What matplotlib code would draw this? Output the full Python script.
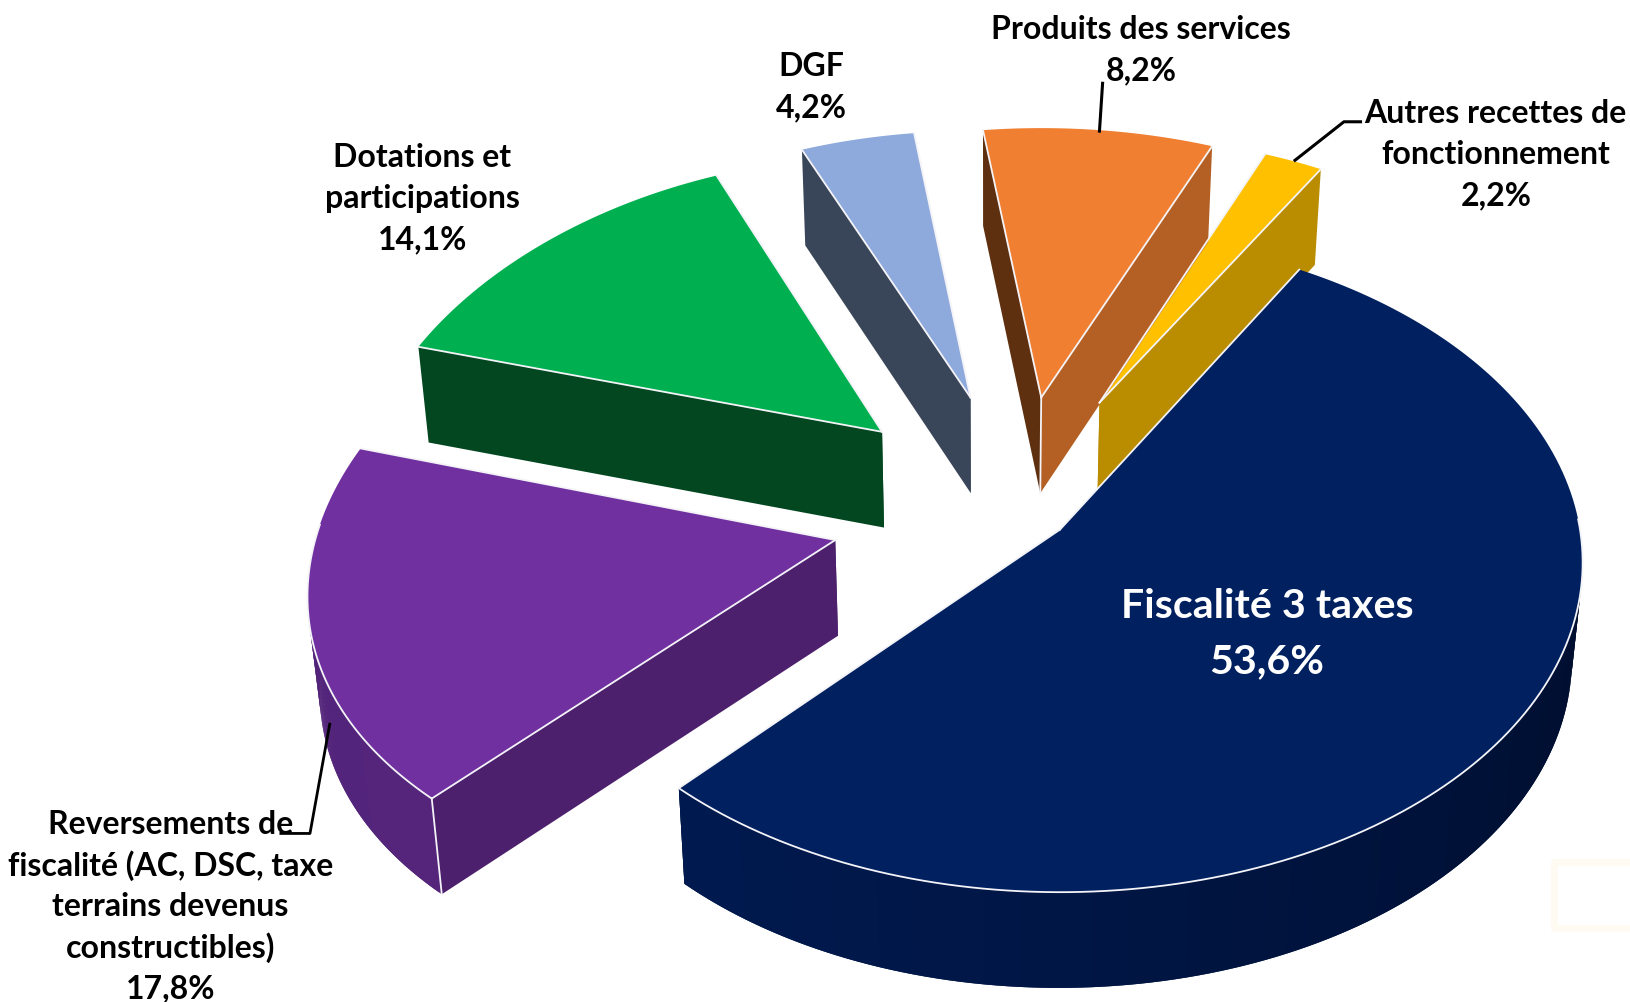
#!/usr/bin/env python3

import matplotlib
matplotlib.use("Agg")
import matplotlib.pyplot as plt
import numpy as np

# values, clockwise from the first slice
names = ["Fiscalité 3 taxes", "Reversements de\nfiscalité (AC, DSC, taxe\nterrains devenus\nconstructibles)",
         "Dotations et\nparticipations", "DGF", "Produits des services",
         "Autres recettes de\nfonctionnement"]
shares = [53.6, 17.8, 14.1, 4.2, 8.2, 2.2]
share_labels = ["53,6%", "17,8%", "14,1%", "4,2%", "8,2%", "2,2%"]

top_colors = ["#002060", "#7030A0", "#00B050", "#8EA9DB", "#F07F32", "#FFC000"]
wall_first = ["#001A4D", "#4C206D", "#024720", "#394558", "#5E3010", "#BA8C00"]
wall_last = ["#000D30", "#4C206D", "#024720", "#394558", "#B46024", "#BA8C00"]
rim_near = ["#000D2C", "#54257B", "#024720", "#394558", "#B46024", "#BA8C00"]
rim_far = ["#001A50", "#52237A", "#024720", "#394558", "#B46024", "#BA8C00"]

# where each exploded slice has its point, in the picture
apex_x = [1019, 803, 848, 933, 1001, 1057]
apex_y = [510, 520, 416, 383, 383, 388]

# slices pushed back look smaller
scale_x = [1.0, 1.0, 0.985, 0.925, 0.955, 0.925]
scale_y = [0.98, 0.98, 0.91, 0.88, 0.89, 0.88]
persp_x = [0.10, 0.17, 0.20, 0.10, 0.10, 0.10]

start_deg = 30
radius_x = 500
radius_y = 320
persp_y = 0.10
depth = 92
squeeze = 0.018
vanish_x = 950

# position of each label block, first line
label_x = [1218, 164, 406, 780, 1097, 1438]
label_y = [583, 792, 151, 64, 28, 109]
line_step = 39.7


def rim(i, angles):
    # ground circle -> screen with a simple perspective
    X = np.sin(angles)
    Y = -np.cos(angles)
    sx = apex_x[i] + scale_x[i] * radius_x * X / (1 - persp_x[i] * Y)
    sy = apex_y[i] + scale_y[i] * radius_y * Y / (1 - persp_y * Y)
    return sx, sy


def drop(x, y):
    return x + (vanish_x - x) * squeeze, y + depth


def mix(c1, c2, t):
    a = np.array(matplotlib.colors.to_rgb(c1))
    b = np.array(matplotlib.colors.to_rgb(c2))
    return a + (b - a) * t


fig = plt.figure(figsize=(16.31, 10.03), dpi=100)
ax = fig.add_axes([0, 0, 1, 1])
ax.set_xlim(0, 1568)
ax.set_ylim(964, 0)
ax.axis("off")

# faint scan marks bottom right of the original
ax.plot([1568, 1494, 1494, 1568], [829, 829, 893, 893], color="#FFFBF2", lw=5, zorder=0)

angle_edges = start_deg + np.cumsum([0] + shares) / sum(shares) * 360
edge_white = "#F4F4F8"

# back slices first, big one last
for i in [5, 4, 3, 2, 1, 0]:
    a0, a1 = np.radians(angle_edges[i]), np.radians(angle_edges[i + 1])
    ang = np.linspace(a0, a1, 160)
    x, y = rim(i, ang)
    bx, by = drop(x, y)
    ax0, ay0 = apex_x[i], apex_y[i]
    dx0, dy0 = drop(ax0, ay0)

    # flat side walls
    ax.fill([ax0, x[0], bx[0], dx0], [ay0, y[0], by[0], dy0], color=wall_first[i], lw=0)
    ax.fill([ax0, x[-1], bx[-1], dx0], [ay0, y[-1], by[-1], dy0], color=wall_last[i], lw=0)

    # outer wall, only the part facing us. strips overlap so no seams
    front = np.where(np.cos(ang) < 0.05)[0]
    if len(front) > 1:
        for n, j in enumerate(front[:-1]):
            k = min(j + 3, front[-1] + 1)
            c = mix(rim_near[i], rim_far[i], n / (len(front) - 1))
            ax.fill(np.r_[x[j:k], bx[j:k][::-1]], np.r_[y[j:k], by[j:k][::-1]], color=c, lw=0)

    # top
    ax.fill(np.r_[ax0, x], np.r_[ay0, y], color=top_colors[i], lw=0)

    # white edges
    if len(front) > 1:
        ax.plot(x[front], y[front], color=edge_white, lw=1.3)
    ax.plot([x[0], ax0], [y[0], ay0], color=edge_white, lw=1.3)
    ax.plot([x[-1], ax0], [y[-1], ay0], color=edge_white, lw=1.3)
    if i == 4:
        ax.plot([ax0, dx0], [ay0, dy0], color=edge_white, lw=1.3)
    if i == 1:
        ax.plot([x[0], bx[0]], [y[0], by[0]], color=edge_white, lw=1.3)

# leader lines
ax.plot([1057, 1060], [127, 81], color="black", lw=2.2)
ax.plot([1245, 1292, 1308], [155, 118, 118], color="black", lw=2.2)
ax.plot([317, 298, 270], [697, 802, 802], color="black", lw=2.0)

# labels
for i in range(len(names)):
    lines = names[i].split("\n") + [share_labels[i]]
    for j, txt in enumerate(lines):
        if i == 0:
            ax.text(label_x[i], label_y[i] + j * 53, txt, color="white", fontsize=29.6,
                    family="Lato", weight="bold", ha="center", va="center")
        else:
            ax.text(label_x[i], label_y[i] + j * line_step, txt, color="black", fontsize=23,
                    family="Lato", weight="bold", ha="center", va="center")

plt.savefig("out.png", dpi=100)
